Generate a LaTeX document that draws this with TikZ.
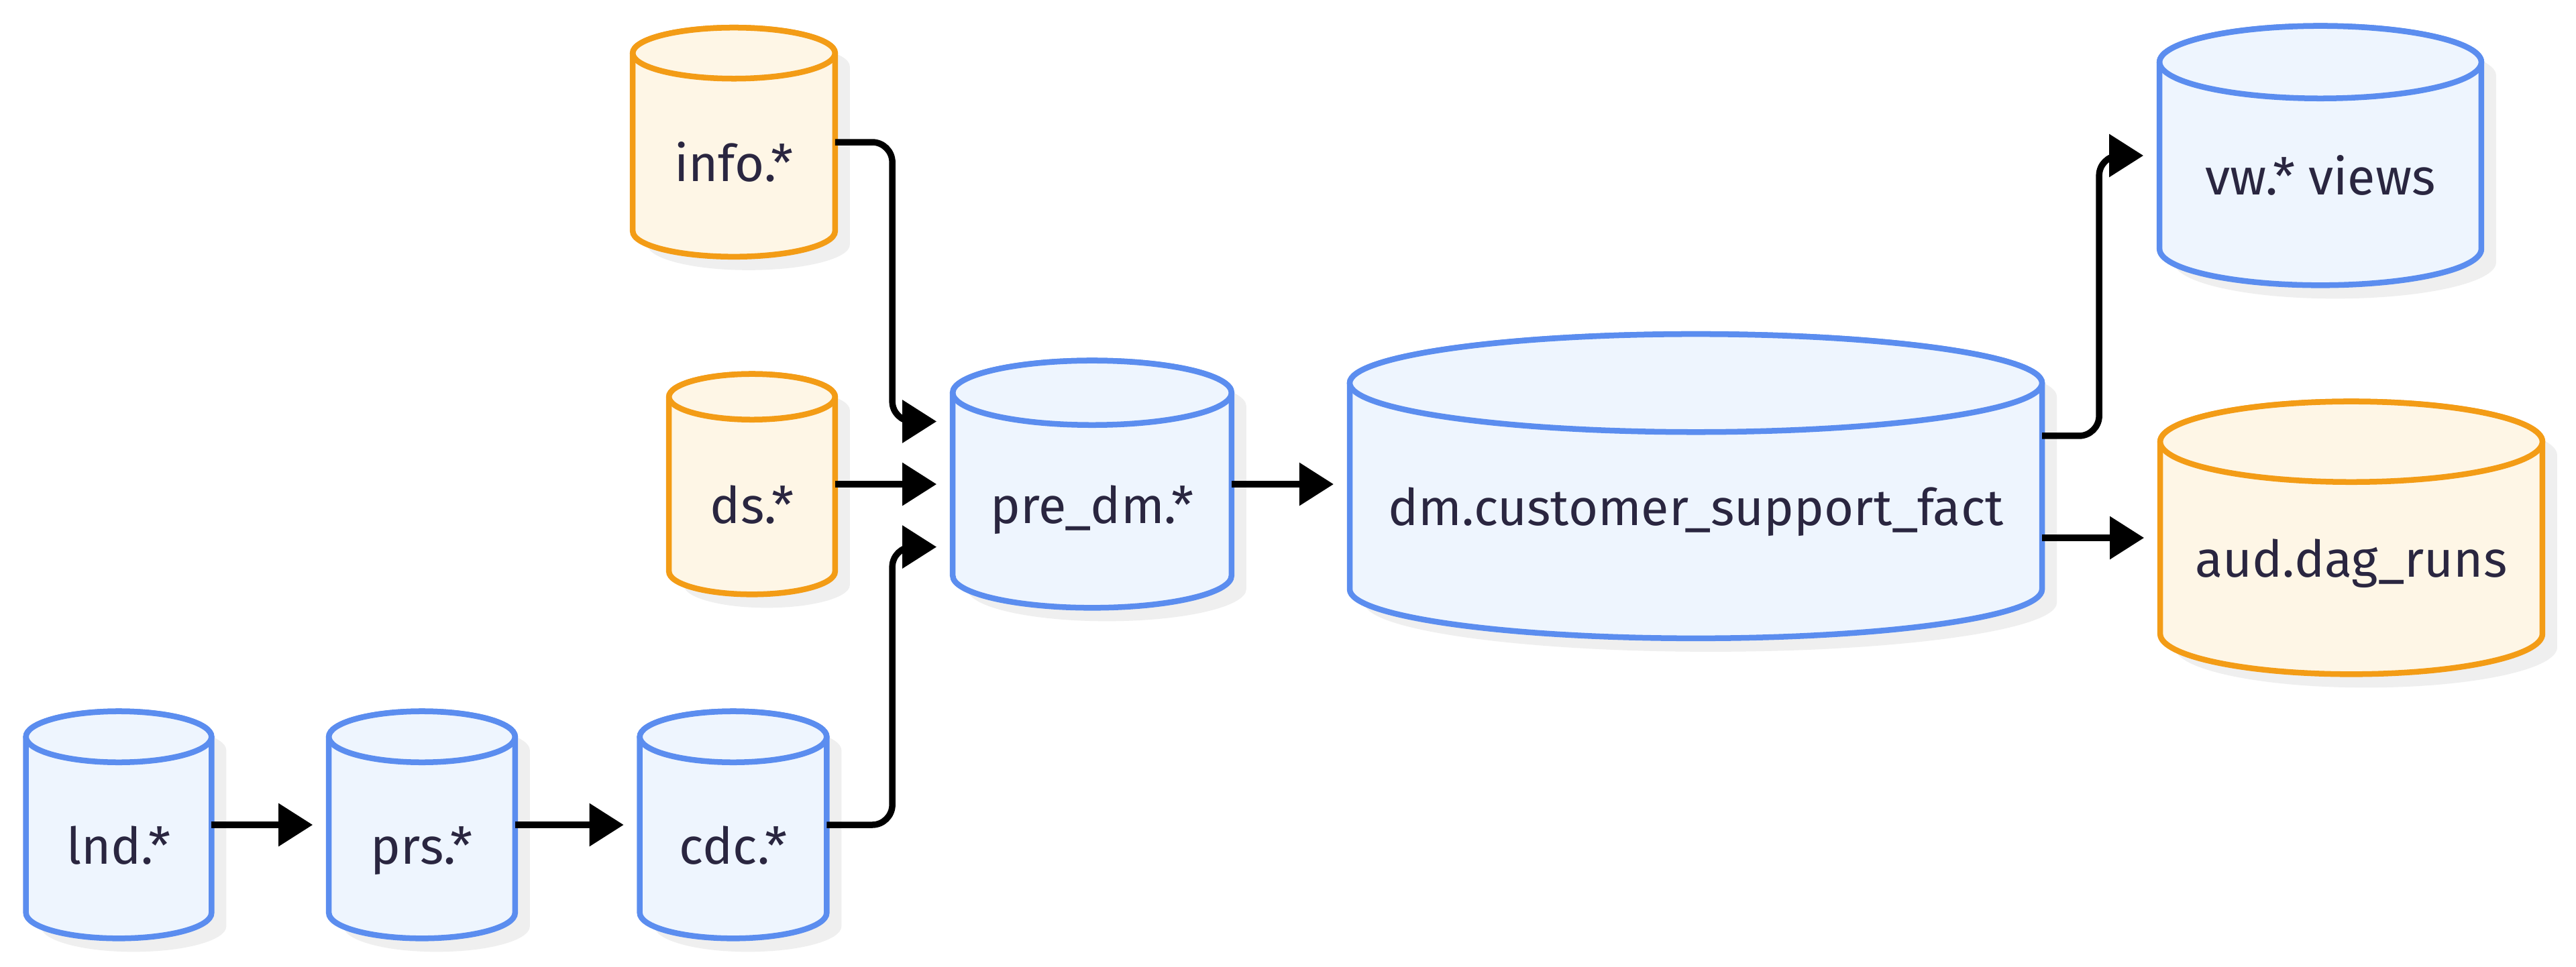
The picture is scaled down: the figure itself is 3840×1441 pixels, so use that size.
\documentclass[tikz,border=0pt]{standalone}
\usepackage{fontspec}
\setmainfont{Fira Sans}
\usetikzlibrary{arrows.meta, calc, backgrounds}
\definecolor{CylBlue}{HTML}{5B8DEF}
\definecolor{CylBlueFill}{HTML}{EEF5FE}
\definecolor{CylOrange}{HTML}{F39C16}
\definecolor{CylOrangeFill}{HTML}{FEF6E6}
\definecolor{CylShadow}{HTML}{EFEFEF}
\definecolor{DText}{HTML}{2A2640}

% silhouette of a table cylinder, used inside a let path
\newcommand{\cylbody}{(\x1,{\y1-\cry}) -- (\x1,{\y2+\cry})
    arc[start angle=180, end angle=360, x radius={(\x2-\x1)/2}, y radius=\cry]
    -- (\x2,{\y1-\cry})
    arc[start angle=0, end angle=180, x radius={(\x2-\x1)/2}, y radius=\cry] -- cycle}

\begin{document}
\begin{tikzpicture}[x=0.01cm, y=-0.01cm,
    dbtable/.style={rectangle, inner sep=0pt, text=DText, font=\fontsize{21.5}{26}\selectfont, text height=1.16cm, text depth=0pt},
    flow/.style={line width=0.095cm, rounded corners=0.3cm, shorten >=0.24cm, -{Triangle[length=0.51cm, width=0.62cm]}}]
    \useasboundingbox (0,0) rectangle (3840,1441);

    % --- Staging chain ---
    \node[dbtable, minimum width=2.75cm, minimum height=3.37cm] (lnd) at (177,1230) {lnd.*};
    \node[dbtable, minimum width=2.76cm, minimum height=3.37cm] (prs) at (629,1230) {prs.*};
    \node[dbtable, minimum width=2.77cm, minimum height=3.37cm] (cdc) at (1093,1230) {cdc.*};

    % --- Reference inputs ---
    \node[dbtable, minimum width=3cm, minimum height=3.4cm] (info) at (1094,212) {info.*};
    \node[dbtable, minimum width=2.46cm, minimum height=3.27cm] (ds) at (1121,722) {ds.*};

    % --- Mart ---
    \node[dbtable, minimum width=4.14cm, minimum height=3.67cm] (predm) at (1628,722) {pre\_dm.*};
    \node[dbtable, minimum width=10.3cm, minimum height=4.52cm] (dm) at (2528,725) {dm.customer\_support\_fact};

    % --- Outputs ---
    \node[dbtable, minimum width=4.78cm, minimum height=3.85cm] (vw) at (3459,232) {vw.* views};
    \node[dbtable, minimum width=5.68cm, minimum height=4.05cm] (aud) at (3505,802) {aud.dag\_runs};

    % Flows
    \draw[flow] (lnd.east) -- (prs.west);
    \draw[flow] (prs.east) -- (cdc.west);
    \draw[flow] (cdc.east) -| ([xshift=-0.9cm, yshift=-0.935cm]predm.west) -- ([yshift=-0.935cm]predm.west);
    \draw[flow] (ds.east) -- (ds.east -| predm.west);
    \draw[flow] (info.east) -| ([xshift=-0.9cm, yshift=0.935cm]predm.west) -- ([yshift=0.935cm]predm.west);
    \draw[flow] (predm.east) -- (predm.east -| dm.west);
    \draw[flow] ([yshift=0.75cm]dm.east) -| ([xshift=-0.9cm]vw.west) -- (vw.west);
    \draw[flow] (aud.west -| dm.east) -- (aud.west);

    % Cylinders behind the labels
    \begin{scope}[on background layer]
        \fill[white] (0,0) rectangle (3840,1441);
        \foreach \cyl/\cry/\ccol in {lnd/0.38cm/Blue, prs/0.38cm/Blue, cdc/0.38cm/Blue,
                info/0.38cm/Orange, ds/0.34cm/Orange, predm/0.48cm/Blue,
                dm/0.73cm/Blue, vw/0.54cm/Blue, aud/0.6cm/Orange} {
            \fill[CylShadow, transform canvas={shift={(0.22cm,-0.2cm)}}]
                let \p1=(\cyl.north west), \p2=(\cyl.south east) in \cylbody;
            \filldraw[draw=Cyl\ccol, fill=Cyl\ccol Fill, line width=0.085cm]
                let \p1=(\cyl.north west), \p2=(\cyl.south east) in \cylbody;
            \filldraw[draw=Cyl\ccol, fill=Cyl\ccol Fill, line width=0.085cm]
                let \p1=(\cyl.north west), \p2=(\cyl.south east) in
                ({(\x1+\x2)/2},{\y1-\cry}) ellipse[x radius={(\x2-\x1)/2}, y radius=\cry];
        }
    \end{scope}
\end{tikzpicture}
\end{document}
